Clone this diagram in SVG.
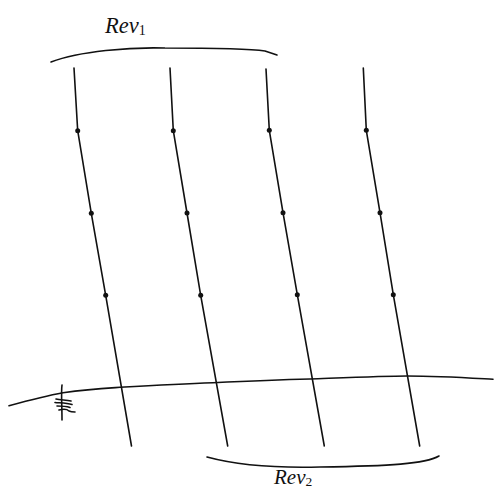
<svg xmlns="http://www.w3.org/2000/svg" width="495" height="490" viewBox="0 0 495 490">
<style>
.ln{fill:none;stroke:#111;stroke-width:1.6;stroke-linecap:round;stroke-linejoin:round}
.dot{fill:#111}
.lbl{font-family:"Liberation Serif","Times New Roman",serif;font-style:italic;fill:#111}
.sub{font-style:normal}
</style>
<rect width="495" height="490" fill="#fff"/>
<g id="connectors">
<polyline class="ln" points="74,68 77.7,130.7 91.3,213.3 105.7,295.3 131.5,446"/>
<polyline class="ln" points="170,68 173.3,130.7 187,213 200.7,295.3 227.7,446"/>
<polyline class="ln" points="266,69 269.3,130.3 283,212.7 297.3,294.7 324.3,446"/>
<polyline class="ln" points="363.3,68 366.3,130.3 380,212.7 393.3,294.7 419.7,446"/>
</g>
<g id="node-dots">
<circle class="dot" cx="77.7" cy="130.7" r="2.5"/>
<circle class="dot" cx="91.3" cy="213.3" r="2.5"/>
<circle class="dot" cx="105.7" cy="295.3" r="2.5"/>
<circle class="dot" cx="173.3" cy="130.7" r="2.5"/>
<circle class="dot" cx="187" cy="213" r="2.5"/>
<circle class="dot" cx="200.7" cy="295.3" r="2.5"/>
<circle class="dot" cx="269.3" cy="130.3" r="2.5"/>
<circle class="dot" cx="283" cy="212.7" r="2.5"/>
<circle class="dot" cx="297.3" cy="294.7" r="2.5"/>
<circle class="dot" cx="366.3" cy="130.3" r="2.5"/>
<circle class="dot" cx="380" cy="212.7" r="2.5"/>
<circle class="dot" cx="393.3" cy="294.7" r="2.5"/>
</g>
<g id="rev1">
<path class="ln" d="M51,62 C80,51 130,47 165,48 C220,48 252,49 265,51 L277,55"/>
<text class="lbl" x="105" y="32.5" font-size="22.5">Rev<tspan class="sub" font-size="14" dy="2">1</tspan></text>
</g>
<g id="rev2">
<path class="ln" d="M207,457 C240,466 280,468 320,467 C390,466 425,464 439,456"/>
<text class="lbl" x="274" y="484" font-size="21">Rev<tspan class="sub" font-size="13.5" dy="1.5">2</tspan></text>
</g>
<g id="boundary">
<path class="ln" d="M9,405.7 C30,400 45,396 63,392.7 C90,389 110,388 120,387.3 C160,385 190,383.5 213,382.7 C250,381 280,379.8 310,379 C350,377.5 385,376 407,376 C440,376 470,378 493,379.3"/>
<path class="ln" d="M62,385 C61,392 62,405 62,420"/>
<path class="ln" d="M56,399 C60,400 66,400 71,401 M55,402.5 C61,403 67,403 72,404.5 M57,406 C62,406 67,406.5 70,407.5 M59,410 C63,409 67,409 69,411 C71,412 73,412 75,412"/>
</g>
</svg>
